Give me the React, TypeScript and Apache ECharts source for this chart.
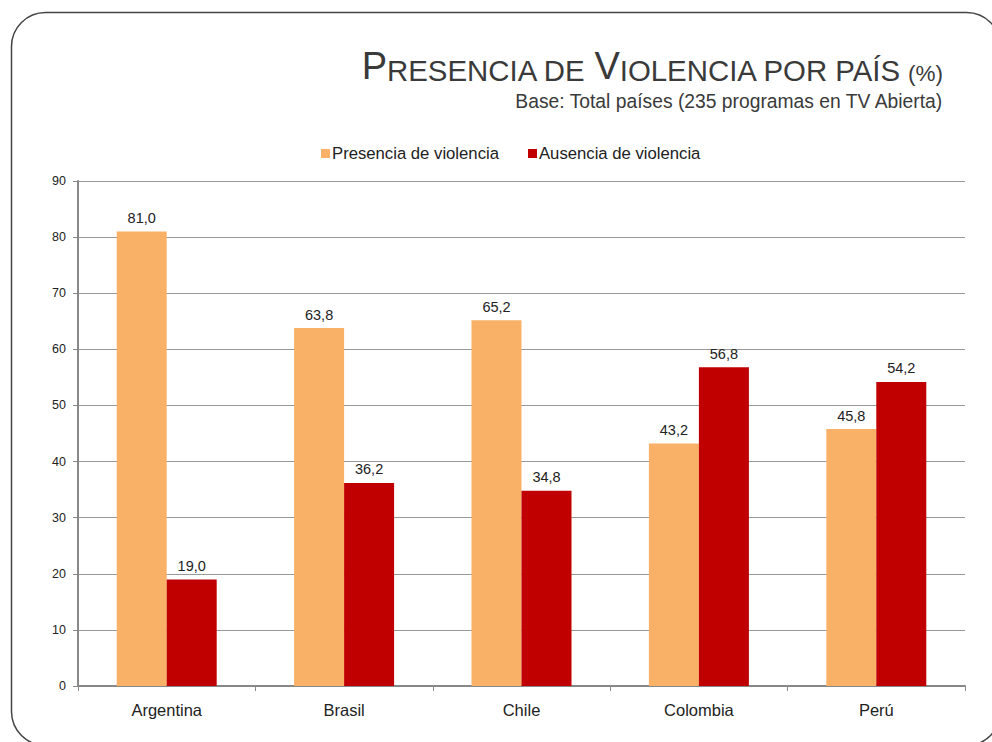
import React, { useEffect, useRef } from "react";
import * as echarts from "echarts";

const categories = ["Argentina", "Brasil", "Chile", "Colombia", "Perú"];
const presencia = [81.0, 63.8, 65.2, 43.2, 45.8];
const ausencia = [19.0, 36.2, 34.8, 56.8, 54.2];
const seriesNames = ["Presencia de violencia", "Ausencia de violencia"];
const titleParts = ["P", "RESENCIA DE ", "V", "IOLENCIA POR PAÍS", " (%)"];
const subtitle = "Base: Total países (235 programas en TV Abierta)";

const FONT = "'Liberation Sans', Arial, sans-serif";

export default function App() {
  const ref = useRef<HTMLDivElement>(null);
  useEffect(() => {
    if (!ref.current) return;
    const chart = echarts.init(ref.current, null, { renderer: "svg" });
    const labelFmt = (p: any) => Number(p.value).toFixed(1).replace(".", ",");
    const tok = (size: number) => ({
      fontSize: size,
      fontWeight: "normal",
      color: "#3a3a3a",
      fontFamily: FONT,
      verticalAlign: "bottom",
      lineHeight: 44,
    });
    chart.setOption({
      animation: false,
      backgroundColor: "#ffffff",
      textStyle: { fontFamily: FONT },
      title: [
        {
          right: 44,
          top: 36,
          text:
            `{big|${titleParts[0]}}{small|${titleParts[1]}}{big|${titleParts[2]}}{small|${titleParts[3]}}{pct|${titleParts[4]}}`,
          textStyle: {
            fontWeight: "normal",
            rich: { big: tok(38), small: tok(29.4), pct: tok(22.5) },
          },
        },
        {
          right: 43,
          top: 87,
          text: subtitle,
          textStyle: { fontSize: 19.3, fontWeight: "normal", color: "#3a3a3a", fontFamily: FONT },
        },
      ],
      legend: {
        left: 316,
        top: 140,
        itemWidth: 9,
        itemHeight: 9,
        itemGap: 29,
        icon: "rect",
        textStyle: { fontSize: 16.7, color: "#222", fontFamily: FONT, padding: [0, 0, 0, -3] },
        data: seriesNames,
      },
      grid: { left: 78, right: 27, top: 181, bottom: 56 },
      xAxis: {
        type: "category",
        data: categories,
        axisLine: { lineStyle: { color: "#888", width: 2 } },
        axisTick: { show: true, interval: 0, length: 5, lineStyle: { color: "#888", width: 1 } },
        axisLabel: { fontSize: 16.5, color: "#222", margin: 15, fontFamily: FONT },
      },
      yAxis: {
        type: "value",
        min: 0,
        max: 90,
        interval: 10,
        axisLine: { show: true, lineStyle: { color: "#888", width: 2 } },
        axisTick: { show: true, length: 5, lineStyle: { color: "#888", width: 1 } },
        axisLabel: { fontSize: 12.5, color: "#222", margin: 12, fontFamily: FONT },
        splitLine: { lineStyle: { color: "#999", width: 1 } },
      },
      series: [
        {
          name: seriesNames[0],
          type: "bar",
          data: presencia,
          barWidth: 50,
          barGap: "0%",
          itemStyle: { color: "#F9B067" },
          label: { show: true, position: "top", distance: 6, fontSize: 14.5, color: "#222", formatter: labelFmt, fontFamily: FONT },
        },
        {
          name: seriesNames[1],
          type: "bar",
          data: ausencia,
          barWidth: 50,
          barGap: "0%",
          itemStyle: { color: "#C00000" },
          label: { show: true, position: "top", distance: 6, fontSize: 14.5, color: "#222", formatter: labelFmt, fontFamily: FONT },
        },
      ],
      graphic: [
        {
          type: "rect",
          shape: { x: 11.5, y: 12.5, width: 989, height: 733, r: 34 },
          style: { fill: "none", stroke: "#444", lineWidth: 1.5 },
          silent: true,
          z: 100,
        },
      ],
    });
    return () => chart.dispose();
  }, []);
  return (
    <div
      ref={ref}
      style={{ position: "fixed", left: 0, top: 0, width: 992, height: 742 }}
    />
  );
}
